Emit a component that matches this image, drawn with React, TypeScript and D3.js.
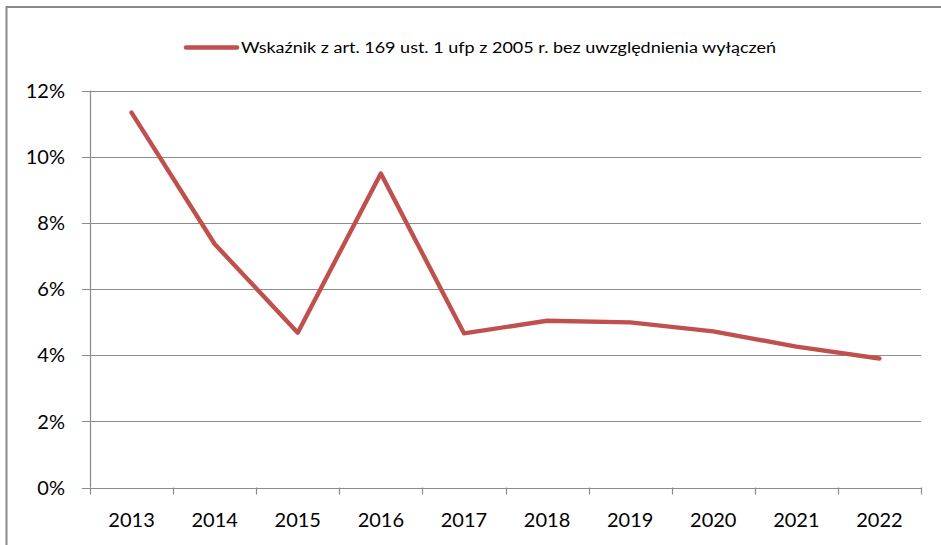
import React from "react";
import * as d3 from "d3";

const categories = ["2013", "2014", "2015", "2016", "2017", "2018", "2019", "2020", "2021", "2022"];
const values = [11.33, 7.36, 4.68, 9.49, 4.66, 5.04, 4.99, 4.72, 4.26, 3.9];
const yTicks = [0, 2, 4, 6, 8, 10, 12];
const seriesName = "Wskaźnik z art. 169 ust. 1 ufp z 2005 r. bez uwzględnienia wyłączeń";

const W = 941;
const H = 545;
const FONT = "Lato, 'Open Sans', sans-serif";
const GRID = "#8c8c8c";
const RED = "#C0504D";

export default function App() {
  const x = d3.scaleBand<string>().domain(categories).range([90, 921]);
  const y = d3.scaleLinear().domain([0, 12]).range([487.5, 90.5]);
  const line = d3
    .line<number>()
    .x((_, i) => (x(categories[i]) as number) + x.bandwidth() / 2)
    .y((d) => y(d));
  const edges = categories.map((c) => x(c) as number).concat([921]);

  return (
    <svg
      width={W}
      height={H}
      style={{ position: "fixed", left: 0, top: 0, background: "#fff" }}
      fontFamily={FONT}
    >
      <rect x={0} y={0} width={W} height={H} fill="#fff" />
      {/* chart border (left & top visible) */}
      <path d={`M6.5,${H} V7 H${W}`} fill="none" stroke="#8a8a8a" strokeWidth={2} />

      {/* gridlines */}
      {yTicks.map((t) => (
        <g key={t}>
          <line x1={82} x2={921} y1={Math.round(y(t)) + 0.5} y2={Math.round(y(t)) + 0.5} stroke={GRID} strokeWidth={1.2} />
          <text x={65} y={y(t)} dy="0.36em" textAnchor="end" fontSize={20} fill="#000">
            {t}%
          </text>
        </g>
      ))}
      {/* y axis line */}
      <line x1={90.5} x2={90.5} y1={y(12)} y2={y(0)} stroke={GRID} strokeWidth={1.2} />
      {/* x ticks */}
      {edges.map((e, i) => (
        <line key={i} x1={Math.round(e) + 0.5} x2={Math.round(e) + 0.5} y1={y(0)} y2={y(0) + 7} stroke={GRID} strokeWidth={1.2} />
      ))}
      {categories.map((c) => (
        <text key={c} x={(x(c) as number) + x.bandwidth() / 2} y={527} textAnchor="middle" fontSize={20} fill="#000">
          {c}
        </text>
      ))}

      {/* series */}
      <path d={line(values) || ""} fill="none" stroke={RED} strokeWidth={4.4} strokeLinejoin="round" strokeLinecap="round" />

      {/* legend */}
      <line x1={186} x2={237} y1={47.5} y2={47.5} stroke={RED} strokeWidth={4.5} strokeLinecap="round" />
      <text x={241} y={52.5} fontSize={14.5} fill="#000" textLength={535} lengthAdjust="spacingAndGlyphs">
        {seriesName}
      </text>
    </svg>
  );
}
